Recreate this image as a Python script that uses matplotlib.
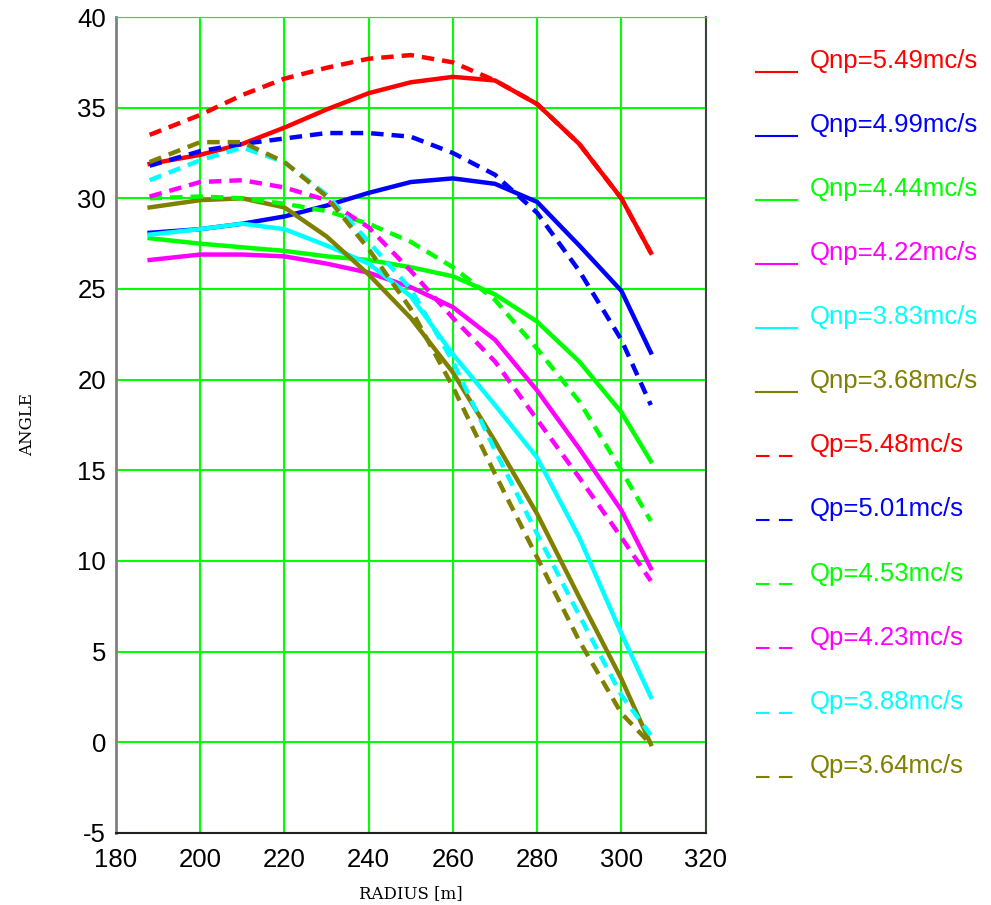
import numpy as np
import matplotlib.pyplot as plt
from matplotlib.legend_handler import HandlerLine2D

# radius stations [m]
r = [188, 200, 210, 220, 230, 240, 250, 260, 270, 280, 290, 300, 307]

# solid curves (Qnp)
np549 = [31.9, 32.4, 33.0, 33.9, 34.9, 35.8, 36.4, 36.7, 36.5, 35.2, 33.0, 30.0, 27.0]
np499 = [28.1, 28.3, 28.6, 29.0, 29.6, 30.3, 30.9, 31.1, 30.8, 29.8, 27.4, 24.9, 21.5]
np444 = [27.8, 27.5, 27.3, 27.1, 26.8, 26.6, 26.2, 25.7, 24.7, 23.2, 21.0, 18.2, 15.5]
np422 = [26.6, 26.9, 26.9, 26.8, 26.4, 25.9, 25.1, 24.0, 22.2, 19.4, 16.2, 12.8, 9.6]
np383 = [28.0, 28.3, 28.6, 28.3, 27.4, 26.4, 24.6, 21.4, 18.6, 15.7, 11.3, 6.0, 2.5]
np368 = [29.5, 29.9, 30.0, 29.5, 27.9, 25.8, 23.4, 20.4, 16.6, 12.6, 8.0, 3.5, -0.1]

# dashed curves (Qp)
p548 = [33.5, 34.6, 35.7, 36.6, 37.2, 37.7, 37.9, 37.5, 36.5, 35.2, 33.0, 30.0, 27.0]
p501 = [31.8, 32.6, 33.0, 33.3, 33.6, 33.6, 33.4, 32.5, 31.3, 29.2, 26.0, 22.2, 18.6]
p453 = [30.0, 30.1, 30.0, 29.7, 29.3, 28.6, 27.6, 26.2, 24.4, 21.7, 18.8, 15.0, 12.2]
p423 = [30.1, 30.9, 31.0, 30.6, 29.9, 28.4, 26.0, 23.4, 21.0, 17.8, 14.6, 11.3, 8.9]
p388 = [31.0, 32.1, 32.8, 32.0, 30.2, 27.6, 25.0, 21.0, 16.1, 11.5, 7.0, 2.6, 0.4]
p364 = [32.0, 33.1, 33.1, 32.0, 30.1, 27.2, 23.9, 19.6, 14.8, 10.2, 5.6, 1.6, -0.1]

solid = [np549, np499, np444, np422, np383, np368]
dashed = [p548, p501, p453, p423, p388, p364]
solid_labels = ['Qnp=5.49mc/s', 'Qnp=4.99mc/s', 'Qnp=4.44mc/s',
                'Qnp=4.22mc/s', 'Qnp=3.83mc/s', 'Qnp=3.68mc/s']
dashed_labels = ['Qp=5.48mc/s', 'Qp=5.01mc/s', 'Qp=4.53mc/s',
                 'Qp=4.23mc/s', 'Qp=3.88mc/s', 'Qp=3.64mc/s']
colors = ['#ff0000', '#0000ff', '#00ff00', '#ff00ff', '#00ffff', '#808000']


class LowLine(HandlerLine2D):
    # legend key sits on the text baseline, like the original
    def create_artists(self, legend, orig_handle, xdescent, ydescent,
                       width, height, fontsize, trans):
        arts = super().create_artists(legend, orig_handle, xdescent, ydescent,
                                      width, height, fontsize, trans)
        for a in arts:
            a.set_ydata(np.asarray(a.get_ydata()) - 0.5 * fontsize)
        return arts


plt.rcParams['font.family'] = ['Liberation Sans', 'DejaVu Sans']
plt.rcParams['axes.unicode_minus'] = False

fig = plt.figure(figsize=(9.91, 9.05), dpi=100)
ax = fig.add_axes([0.117, 0.0796, 0.595, 0.9016])

lines = []
for y, c, lab in zip(solid, colors, solid_labels):
    lines += ax.plot(r, y, color=c, lw=3.2, label=lab)
for y, c, lab in zip(dashed, colors, dashed_labels):
    lines += ax.plot(r, y, color=c, lw=3.2, ls=(0, (2.8, 1.8)), label=lab)

ax.set_xlim(180, 320)
ax.set_ylim(-5, 40)
ax.set_xticks(np.arange(180, 321, 20))
ax.set_yticks(np.arange(-5, 41, 5))
ax.grid(True, color='#00ff00', lw=1.5)
ax.set_axisbelow(True)
ax.tick_params(length=0, labelsize=18.5)
ax.tick_params(axis='x', pad=11)
ax.tick_params(axis='y', pad=7)
ax.spines['top'].set_color('#00ff00')
ax.spines['left'].set_color('#808080')
ax.spines['left'].set_linewidth(2)
ax.spines['right'].set_color('#404040')
ax.spines['right'].set_linewidth(1.5)
ax.spines['bottom'].set_color('#202020')
ax.spines['bottom'].set_linewidth(1.5)

ax.set_xlabel('RADIUS [m]', fontsize=12, family='DejaVu Serif', labelpad=9)
ax.set_ylabel('ANGLE', fontsize=12, family='DejaVu Serif', labelpad=30)

leg = ax.legend(loc='upper left', bbox_to_anchor=(1.085, 0.961), frameon=False,
                fontsize=18.5, labelcolor='linecolor', handlelength=1.6,
                handletextpad=0.5, labelspacing=1.56, borderaxespad=0,
                borderpad=0, handler_map={l: LowLine() for l in lines})
for i, h in enumerate(leg.legend_handles):
    h.set_linewidth(1.5)
    if i >= 6:
        h.set_linestyle((0, (6.5, 4.5)))

fig.savefig('out.png', dpi=100)
